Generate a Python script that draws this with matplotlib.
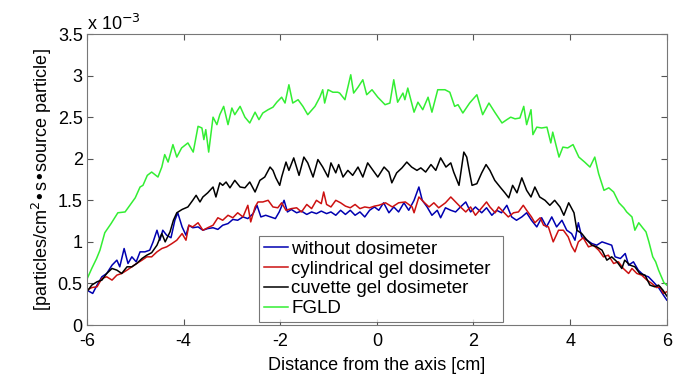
import matplotlib
matplotlib.use("Agg")
import matplotlib.pyplot as plt
from matplotlib.ticker import FuncFormatter

plt.rcParams["font.family"] = ["Liberation Sans", "DejaVu Sans"]
plt.rcParams["axes.unicode_minus"] = False

# values, y in units of 1e-3
green_x = [-6.00, -5.90, -5.80, -5.73, -5.63, -5.50, -5.36, -5.21, -5.10, -5.00, -4.90, -4.84, -4.75, -4.66,
           -4.53, -4.45, -4.39, -4.32, -4.22, -4.14, -4.04, -3.91, -3.80, -3.70, -3.62, -3.58, -3.54, -3.48,
           -3.39, -3.31, -3.25, -3.17, -3.08, -3.00, -2.94, -2.83, -2.73, -2.63, -2.52, -2.44, -2.36, -2.25,
           -2.15, -2.07, -1.97, -1.90, -1.82, -1.74, -1.63, -1.53, -1.43, -1.28, -1.18, -1.12, -1.08, -1.01,
           -0.91, -0.81, -0.77, -0.66, -0.54, -0.48, -0.39, -0.29, -0.21, -0.10, 0.02, 0.17, 0.27, 0.35,
           0.43, 0.54, 0.58, 0.64, 0.77, 0.85, 0.95, 1.06, 1.14, 1.26, 1.41, 1.51, 1.61, 1.68, 1.78, 1.92,
           2.07, 2.19, 2.32, 2.44, 2.59, 2.69, 2.77, 2.86, 2.96, 3.04, 3.10, 3.19, 3.23, 3.31, 3.41, 3.52,
           3.60, 3.64, 3.77, 3.85, 3.95, 4.06, 4.18, 4.30, 4.41, 4.51, 4.59, 4.70, 4.80, 4.90, 5.01, 5.11,
           5.17, 5.28, 5.34, 5.42, 5.50, 5.57, 5.63, 5.71, 5.77, 5.83, 5.94, 6.00]
green_y = [0.55, 0.68, 0.80, 0.90, 1.11, 1.22, 1.35, 1.36, 1.45, 1.53, 1.66, 1.68, 1.80, 1.84,
           1.78, 1.90, 2.05, 1.96, 2.17, 2.02, 2.13, 2.19, 2.08, 2.39, 2.37, 2.23, 2.35, 2.08,
           2.50, 2.41, 2.53, 2.63, 2.41, 2.61, 2.53, 2.63, 2.50, 2.43, 2.56, 2.47, 2.55, 2.59,
           2.62, 2.68, 2.74, 2.67, 2.89, 2.67, 2.71, 2.63, 2.53, 2.63, 2.74, 2.83, 2.67, 2.83,
           2.80, 2.80, 2.79, 2.71, 3.01, 2.79, 2.86, 2.95, 2.77, 2.83, 2.74, 2.65, 2.67, 2.95,
           2.68, 2.79, 2.71, 2.85, 2.56, 2.68, 2.59, 2.74, 2.56, 2.83, 2.83, 2.80, 2.63, 2.65, 2.55, 2.67,
           2.77, 2.53, 2.67, 2.56, 2.43, 2.47, 2.50, 2.48, 2.49, 2.63, 2.41, 2.59, 2.29, 2.38, 2.37, 2.38,
           2.19, 2.32, 2.02, 2.14, 2.13, 2.17, 2.02, 1.96, 1.90, 2.02, 1.82, 1.62, 1.65, 1.60, 1.47, 1.41,
           1.36, 1.30, 1.14, 1.23, 1.17, 1.12, 1.00, 0.82, 0.76, 0.66, 0.51, 0.48]

black_x = [-6.00, -5.90, -5.79, -5.69, -5.59, -5.48, -5.38, -5.28, -5.17, -5.07, -4.97, -4.86, -4.76, -4.66,
           -4.55, -4.45, -4.38, -4.28, -4.21, -4.14, -4.03, -3.91, -3.81, -3.74, -3.66, -3.60, -3.50, -3.39,
           -3.33, -3.25, -3.19, -3.12, -3.04, -2.94, -2.83, -2.73, -2.63, -2.52, -2.42, -2.32, -2.21, -2.15,
           -2.09, -2.01, -1.97, -1.88, -1.82, -1.72, -1.61, -1.51, -1.43, -1.32, -1.22, -1.12, -1.01, -0.95,
           -0.85, -0.79, -0.70, -0.60, -0.50, -0.39, -0.29, -0.19, -0.08, 0.02, 0.15, 0.25, 0.31, 0.41,
           0.52, 0.62, 0.72, 0.83, 0.91, 1.01, 1.12, 1.22, 1.32, 1.43, 1.53, 1.59, 1.70, 1.80, 1.86, 1.92,
           1.97, 2.07, 2.17, 2.26, 2.34, 2.44, 2.55, 2.65, 2.73, 2.81, 2.90, 3.00, 3.10, 3.19, 3.27, 3.37,
           3.48, 3.58, 3.68, 3.79, 3.87, 3.97, 4.08, 4.14, 4.24, 4.35, 4.45, 4.55, 4.66, 4.76, 4.86, 4.97,
           5.07, 5.13, 5.24, 5.34, 5.44, 5.55, 5.65, 5.75, 5.83, 5.92, 6.00]
black_y = [0.40, 0.48, 0.52, 0.54, 0.62, 0.68, 0.66, 0.62, 0.70, 0.70, 0.74, 0.80, 0.84, 0.87,
           0.96, 1.10, 1.00, 1.12, 1.26, 1.35, 1.39, 1.42, 1.50, 1.56, 1.48, 1.54, 1.59, 1.66,
           1.54, 1.71, 1.68, 1.72, 1.65, 1.74, 1.66, 1.65, 1.72, 1.60, 1.74, 1.78, 1.90, 1.86,
           1.77, 1.68, 1.78, 1.96, 1.86, 2.01, 1.80, 2.02, 1.95, 1.78, 1.99, 1.90, 1.78, 1.95,
           1.83, 1.93, 1.78, 1.86, 1.80, 1.90, 1.78, 1.95, 1.86, 1.78, 1.90, 1.84, 1.71, 1.83,
           1.89, 1.96, 1.90, 1.86, 1.89, 1.84, 1.93, 1.86, 2.01, 1.90, 1.95, 1.84, 1.68, 2.08, 2.02, 1.83,
           1.68, 1.70, 1.83, 1.93, 1.86, 1.74, 1.66, 1.59, 1.53, 1.68, 1.59, 1.77, 1.62, 1.54, 1.66, 1.54,
           1.50, 1.44, 1.50, 1.42, 1.32, 1.47, 1.35, 1.14, 1.10, 1.02, 0.96, 0.94, 0.90, 0.78, 0.82, 0.76,
           0.68, 0.78, 0.72, 0.70, 0.62, 0.60, 0.48, 0.46, 0.48, 0.42, 0.35]

blue_x = [-6.00, -5.88, -5.79, -5.69, -5.59, -5.48, -5.38, -5.32, -5.23, -5.15, -5.07, -4.98, -4.90, -4.80,
          -4.70, -4.63, -4.55, -4.49, -4.43, -4.35, -4.26, -4.18, -4.12, -4.03, -3.95, -3.89, -3.81, -3.70,
          -3.60, -3.50, -3.39, -3.29, -3.19, -3.08, -2.98, -2.88, -2.77, -2.67, -2.56, -2.48, -2.40, -2.30,
          -2.20, -2.10, -2.02, -1.92, -1.85, -1.77, -1.66, -1.56, -1.45, -1.35, -1.25, -1.15, -1.04, -0.95,
          -0.85, -0.75, -0.65, -0.55, -0.45, -0.35, -0.25, -0.15, -0.05, 0.04, 0.14, 0.25, 0.35, 0.45,
          0.56, 0.66, 0.77, 0.87, 0.94, 1.04, 1.14, 1.25, 1.32, 1.42, 1.53, 1.63, 1.73, 1.84, 1.94, 2.04,
          2.17, 2.27, 2.38, 2.48, 2.58, 2.69, 2.79, 2.89, 3.00, 3.10, 3.20, 3.31, 3.41, 3.51, 3.62, 3.72,
          3.83, 3.93, 4.03, 4.10, 4.17, 4.24, 4.35, 4.45, 4.55, 4.66, 4.76, 4.86, 4.93, 5.04, 5.14, 5.21,
          5.31, 5.41, 5.52, 5.62, 5.72, 5.83, 5.93, 6.00]
blue_y = [0.42, 0.38, 0.48, 0.58, 0.62, 0.72, 0.78, 0.70, 0.92, 0.74, 0.82, 0.76, 0.88, 0.88,
          0.90, 1.00, 1.14, 1.02, 1.14, 1.08, 1.05, 1.26, 1.35, 1.18, 1.08, 1.20, 1.17, 1.18,
          1.14, 1.16, 1.17, 1.15, 1.20, 1.22, 1.27, 1.26, 1.30, 1.28, 1.34, 1.44, 1.30, 1.32,
          1.30, 1.28, 1.36, 1.50, 1.36, 1.39, 1.35, 1.37, 1.33, 1.36, 1.34, 1.37, 1.34, 1.36,
          1.32, 1.38, 1.33, 1.38, 1.32, 1.36, 1.30, 1.38, 1.42, 1.38, 1.47, 1.35, 1.42, 1.36,
          1.47, 1.38, 1.50, 1.66, 1.50, 1.42, 1.32, 1.38, 1.29, 1.41, 1.38, 1.36, 1.42, 1.48, 1.36, 1.42,
          1.35, 1.41, 1.32, 1.38, 1.35, 1.44, 1.30, 1.26, 1.30, 1.35, 1.26, 1.18, 1.29, 1.18, 1.30, 1.18,
          1.26, 1.14, 1.10, 1.02, 1.23, 1.06, 1.02, 0.98, 0.96, 1.00, 0.98, 0.96, 0.82, 0.80, 0.86, 0.72,
          0.76, 0.66, 0.60, 0.58, 0.52, 0.45, 0.36, 0.30]

red_x = [-6.00, -5.90, -5.79, -5.69, -5.59, -5.48, -5.38, -5.28, -5.17, -5.07, -4.97, -4.86, -4.76, -4.66,
         -4.55, -4.45, -4.35, -4.24, -4.14, -4.03, -3.95, -3.89, -3.81, -3.70, -3.60, -3.50, -3.39, -3.29,
         -3.19, -3.08, -2.98, -2.88, -2.77, -2.67, -2.61, -2.52, -2.46, -2.36, -2.25, -2.15, -2.05, -1.97,
         -1.88, -1.77, -1.66, -1.56, -1.45, -1.35, -1.25, -1.15, -1.10, -1.04, -0.95, -0.85, -0.75, -0.65,
         -0.55, -0.45, -0.35, -0.25, -0.15, -0.05, 0.04, 0.18, 0.32, 0.45, 0.59, 0.73, 0.77, 0.87,
         0.97, 1.08, 1.18, 1.28, 1.42, 1.53, 1.63, 1.73, 1.84, 1.94, 2.04, 2.17, 2.27, 2.34, 2.45, 2.52,
         2.62, 2.72, 2.83, 2.93, 3.03, 3.10, 3.20, 3.27, 3.38, 3.45, 3.55, 3.65, 3.76, 3.86, 3.96, 4.03,
         4.10, 4.17, 4.27, 4.38, 4.48, 4.59, 4.69, 4.79, 4.90, 5.00, 5.10, 5.21, 5.28, 5.38, 5.48, 5.59,
         5.69, 5.79, 5.86, 5.93, 6.00]
red_y = [0.42, 0.45, 0.46, 0.56, 0.58, 0.54, 0.60, 0.62, 0.66, 0.70, 0.74, 0.78, 0.82, 0.82,
         0.88, 0.92, 0.94, 0.98, 1.02, 1.10, 1.02, 1.20, 1.18, 1.23, 1.14, 1.17, 1.20, 1.29,
         1.26, 1.32, 1.29, 1.35, 1.30, 1.44, 1.24, 1.42, 1.48, 1.48, 1.50, 1.42, 1.41, 1.47,
         1.38, 1.40, 1.41, 1.36, 1.45, 1.40, 1.50, 1.46, 1.60, 1.45, 1.42, 1.50, 1.47, 1.43,
         1.41, 1.45, 1.40, 1.42, 1.41, 1.43, 1.44, 1.47, 1.42, 1.47, 1.48, 1.42, 1.35, 1.54,
         1.48, 1.42, 1.47, 1.41, 1.47, 1.54, 1.48, 1.42, 1.36, 1.42, 1.32, 1.41, 1.48, 1.42, 1.35, 1.42,
         1.36, 1.30, 1.35, 1.36, 1.44, 1.38, 1.30, 1.23, 1.29, 1.20, 1.18, 1.00, 1.14, 1.14, 1.06, 0.95,
         0.88, 1.00, 1.05, 0.94, 0.96, 0.90, 0.82, 0.84, 0.74, 0.76, 0.68, 0.62, 0.68, 0.62, 0.60, 0.54,
         0.50, 0.45, 0.46, 0.38, 0.40]

labels = ["without dosimeter", "cylindrical gel dosimeter", "cuvette gel dosimeter", "FGLD"]
colors = ["#0000b0", "#cc1111", "#000000", "#33ee33"]

fig = plt.figure(figsize=(6.79, 3.74), dpi=100)
ax = fig.add_axes([0.128, 0.131, 0.854, 0.778])

series = [(blue_x, blue_y), (red_x, red_y), (black_x, black_y), (green_x, green_y)]
for (xs, ys), lab, c in zip(series, labels, colors):
    ax.plot(xs, [v * 1e-3 for v in ys], color=c, lw=1.1, label=lab)

ax.set_xlim(-6, 6)
ax.set_ylim(0, 3.5e-3)
ax.set_xticks([-6, -4, -2, 0, 2, 4, 6])
ax.set_yticks([i * 0.5e-3 for i in range(8)])
ax.yaxis.set_major_formatter(FuncFormatter(lambda v, p: "%g" % round(v * 1e3, 2)))
ax.tick_params(direction="in", top=True, right=True, length=4, labelsize=13, color="#555555")
ax.tick_params(axis="x", pad=6)
ax.tick_params(axis="y", pad=3)
for s in ax.spines.values():
    s.set_color("#777777")

ax.text(0.0, 1.0, r"x 10$^{-3}$", transform=ax.transAxes, fontsize=13, va="bottom", ha="left")
ax.set_xlabel("Distance from the axis [cm]", fontsize=13, labelpad=5)
ax.set_ylabel("[particles/cm$^2$•s•source particle]", fontsize=13, labelpad=3)

leg = ax.legend(loc="lower left", bbox_to_anchor=(0.297, 0.01, 0.42, 0.344), mode="expand",
                fontsize=13.5, frameon=True, fancybox=False, handlelength=1.3, handletextpad=0.15,
                borderaxespad=0, labelspacing=0.15, borderpad=0.25)
leg.get_frame().set_edgecolor("#555555")
leg.get_frame().set_linewidth(0.8)

fig.savefig("out.png", dpi=100)
